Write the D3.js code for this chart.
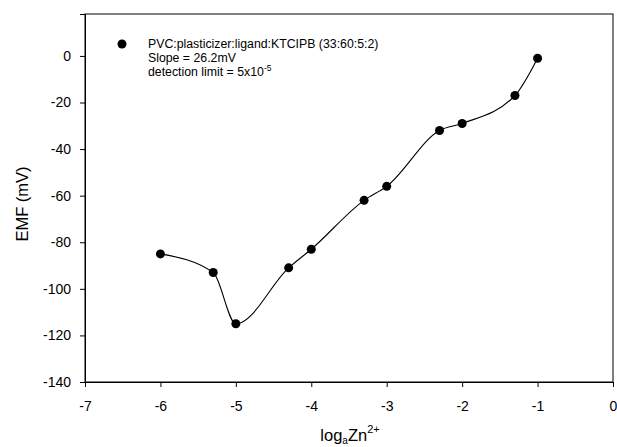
<!DOCTYPE html>
<html>
<head>
<meta charset="utf-8">
<script src="https://cdn.jsdelivr.net/npm/d3@7"></script>
<style>
  body { margin: 0; background: #fff; }
  text { font-family: "Liberation Sans", Arial, sans-serif; fill: #000; }
</style>
</head>
<body>
<div id="chart"></div>
<script>
// DATA
const logConc = [-6, -5.3, -5, -4.3, -4, -3.3, -3, -2.3, -2, -1.3, -1];
const emf = [-85, -93, -115, -91, -83, -62, -56, -32, -29, -17, -1];
const xTicks = [-7, -6, -5, -4, -3, -2, -1, 0];
const yTicks = [-140, -120, -100, -80, -60, -40, -20, 0];
const legendLines = [
  'PVC:plasticizer:ligand:KTCIPB (33:60:5:2)',
  'Slope = 26.2mV'
];

const width = 617;
const height = 447;
const margin = { top: 14, right: 4, bottom: 65, left: 85 };
const graphWidth = width - margin.left - margin.right;
const graphHeight = height - margin.top - margin.bottom;

const svg = d3.select('#chart')
  .append('svg')
  .attr('width', width)
  .attr('height', height)

const g = svg.append('g')
  .attr('transform', 'translate(' + margin.left + ',' + margin.top + ')')

const xScale = d3.scaleLinear()
  .domain([-7, 0])
  .range([0, graphWidth])

const yScale = d3.scaleLinear()
  .domain([-140, 18])
  .range([graphHeight, 0])

// FRAME
g.append('rect')
  .attr('x', 0)
  .attr('y', 0)
  .attr('width', graphWidth)
  .attr('height', graphHeight)
  .attr('fill', 'none')
  .attr('stroke', '#000')
  .attr('stroke-width', 1)

// AXES
g.append('g')
  .attr('transform', 'translate(0,' + graphHeight + ')')
  .call(d3.axisBottom(xScale).tickValues(xTicks).tickSize(5).tickPadding(14).tickFormat(d3.format('d')))

g.append('g')
  .call(d3.axisLeft(yScale).tickValues(yTicks).tickSize(5).tickPadding(9).tickFormat(d3.format('d')))

svg.selectAll('.tick text')
  .attr('font-size', 14)
  .attr('font-family', '"Liberation Sans", Arial, sans-serif')
svg.selectAll('.domain').attr('stroke', '#000')
svg.selectAll('.tick line').attr('stroke', '#000')
// plain hyphen like the original
svg.selectAll('.tick text').text(d => String(d))

// AXIS TITLES
const xTitle = svg.append('text')
  .attr('x', 350)
  .attr('y', 441)
  .attr('text-anchor', 'middle')
  .attr('font-size', 16.5)
xTitle.append('tspan').text('log')
xTitle.append('tspan').attr('font-size', 10).attr('dy', 3).text('a')
xTitle.append('tspan').attr('dy', -3).text('Zn')
xTitle.append('tspan').attr('font-size', 11).attr('dy', -8).text('2+')

svg.append('text')
  .attr('transform', 'translate(28,204) rotate(-90)')
  .attr('text-anchor', 'middle')
  .attr('font-size', 16.5)
  .text('EMF (mV)')

// LINE
g.append('path')
  .datum(logConc.map((d, i) => ({ x: d, y: emf[i] })))
  .attr('fill', 'none')
  .attr('stroke', '#000')
  .attr('stroke-width', 1.1)
  .attr('d', d3.line()
    .x(d => xScale(d.x))
    .y(d => yScale(d.y))
    .curve(d3.curveMonotoneX)
  )

// POINTS
g.append('g')
  .selectAll('circle')
  .data(logConc)
  .enter()
  .append('circle')
  .attr('cx', d => xScale(d))
  .attr('cy', (d, i) => yScale(emf[i]))
  .attr('r', 4.5)
  .attr('fill', '#000')

// LEGEND
const legend = svg.append('g')
  .attr('transform', 'translate(122,44)')

legend.append('circle')
  .attr('cx', 0)
  .attr('cy', 0)
  .attr('r', 4.5)
  .attr('fill', '#000')

legendLines.forEach((line, i) => {
  legend.append('text')
    .attr('x', 26)
    .attr('y', 4 + i * 14)
    .attr('font-size', 12.3)
    .text(line)
})

const detect = legend.append('text')
  .attr('x', 26)
  .attr('y', 4 + 2 * 14)
  .attr('font-size', 12.3)
detect.append('tspan').text('detection limit = 5x10')
detect.append('tspan').attr('font-size', 8.5).attr('dy', -5).text('-5')
</script>
</body>
</html>
